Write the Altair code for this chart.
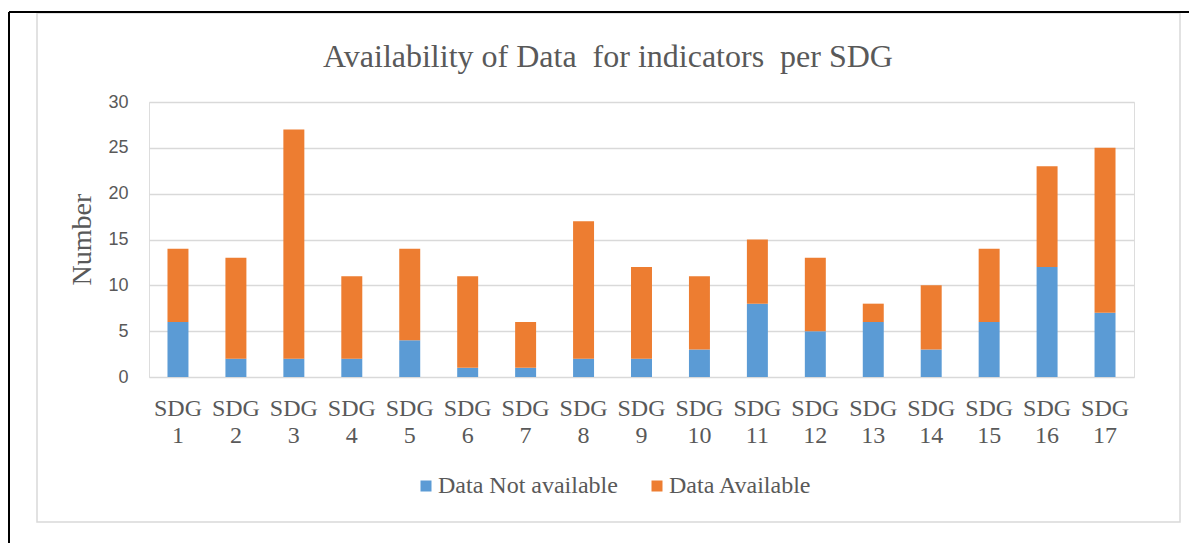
import altair as alt
import pandas as pd

categories = [f"SDG {i}" for i in range(1, 18)]
not_available = [6, 2, 2, 2, 4, 1, 1, 2, 2, 3, 8, 5, 6, 3, 6, 12, 7]
available = [8, 11, 25, 9, 10, 10, 5, 15, 10, 8, 7, 8, 2, 7, 8, 11, 18]
series = ["Data Not available", "Data Available"]
colors = ["#5B9BD5", "#ED7D31"]
title_text = "Availability of Data\u00a0 for indicators\u00a0 per SDG"

rows = []
for c, na, av in zip(categories, not_available, available):
    rows.append({"SDG": c, "Series": series[0], "Value": na, "rank": 0})
    rows.append({"SDG": c, "Series": series[1], "Value": av, "rank": 1})
df = pd.DataFrame(rows)

SERIF = "Liberation Serif"
SANS = "Liberation Sans"
TXT = "#595959"

bars = alt.Chart(df).mark_bar().encode(
    x=alt.X("SDG:N", sort=categories,
            scale=alt.Scale(paddingInner=0.638, paddingOuter=0.319),
            axis=alt.Axis(title=None, labelAngle=0, labelFont=SERIF, labelFontSize=24,
                          labelColor=TXT, labelExpr="split(datum.label, ' ')",
                          labelLineHeight=27, labelPadding=19, labelBaseline="top",
                          ticks=False, domain=False, grid=False)),
    y=alt.Y("Value:Q", stack="zero",
            scale=alt.Scale(domain=[0, 30], nice=False),
            axis=alt.Axis(title="Number", values=[0, 5, 10, 15, 20, 25, 30],
                          titleFont=SERIF, titleFontSize=28, titleFontWeight="normal",
                          titleColor=TXT, titleX=-67, titleY=137, titleAngle=-90,
                          titleBaseline="middle", titleAlign="center",
                          labelFont=SANS, labelFontSize=18, labelColor=TXT,
                          labelPadding=21, ticks=False, domain=False,
                          gridColor="#D9D9D9", gridWidth=1.3)),
    color=alt.Color("Series:N", scale=alt.Scale(domain=series, range=colors),
                    legend=alt.Legend(title=None, orient="none", direction="horizontal",
                                      legendX=265, legendY=372, padding=0,
                                      symbolType="square", symbolSize=121,
                                      symbolStrokeWidth=0, labelFont=SERIF,
                                      labelFontSize=24, labelColor=TXT, labelOffset=0,
                                      labelLimit=0, columnPadding=27)),
    order=alt.Order("rank:Q", sort="ascending"),
)

one = pd.DataFrame({"t": [title_text]})

title = alt.Chart(one).mark_text(font=SERIF, fontSize=32, color=TXT,
                                  align="center", baseline="alphabetic").encode(
    text="t:N", x=alt.value(459), y=alt.value(-35))

gray_frame = alt.Chart(one).mark_rect(fill="transparent", stroke="#D9D9D9",
                                      strokeWidth=1.5).encode(
    x=alt.value(-112), x2=alt.value(1031), y=alt.value(-89), y2=alt.value(420))

black_top = alt.Chart(one).mark_rule(color="black", strokeWidth=2).encode(
    x=alt.value(-140), x2=alt.value(1048), y=alt.value(-90))
black_left = alt.Chart(one).mark_rule(color="black", strokeWidth=2).encode(
    x=alt.value(-140), y=alt.value(-90), y2=alt.value(449))

chart = alt.layer(gray_frame, black_top, black_left, bars, title).properties(
    width=985, height=275,
    autosize=alt.AutoSizeParams(type="none"),
    padding={"left": 141, "top": 94, "right": 55, "bottom": 166},
).configure_view(stroke=None).configure(background="white")

chart.save("out.html", embed_options={"renderer": "svg", "actions": False})
